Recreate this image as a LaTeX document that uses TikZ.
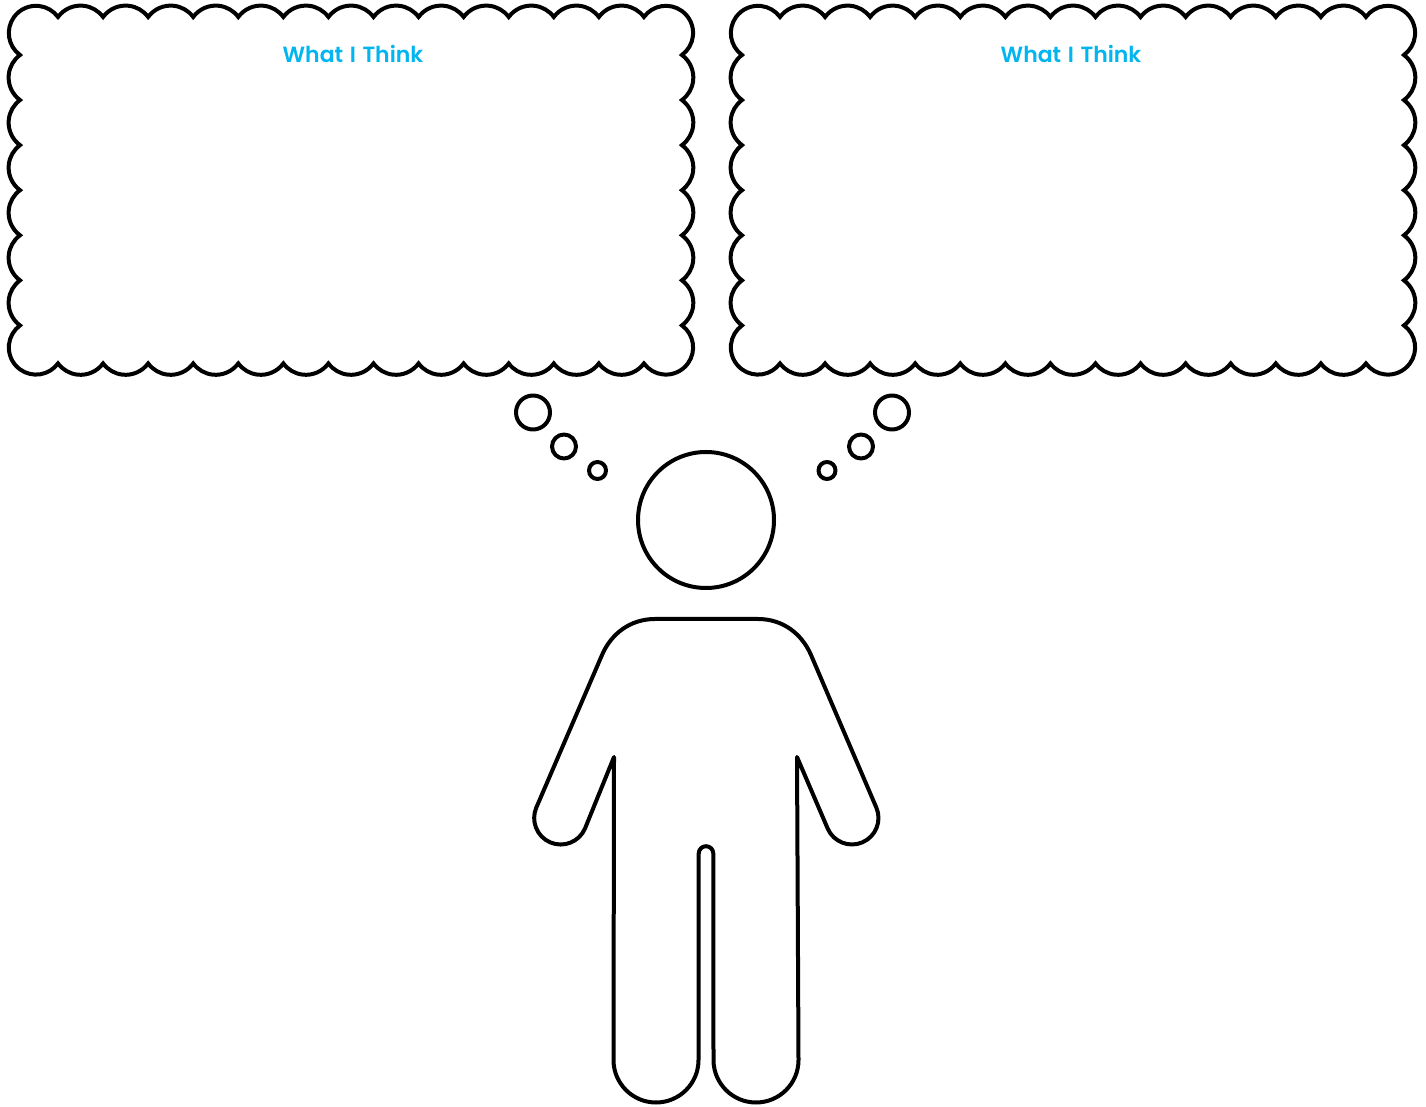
\documentclass[tikz,border=0pt]{standalone}
\usepackage{fontspec}
\setmainfont{Poppins}[BoldFont={Poppins SemiBold}]
\definecolor{titleblue}{HTML}{00B5F0}
\tikzset{
  outline/.style={
    line width=4pt,
    color=black,
    fill=white,
    miter limit=10
  },
  body line/.style={
    outline,
    line join=round
  },
  title text/.style={
    font=\fontsize{22}{26}\selectfont\bfseries,
    execute at begin node={\spaceskip=0.3em\relax},
    color=titleblue,
    inner sep=0pt
  },
  thought cloud/.pic={
    % each side: a corner, then its scallops
    \draw[outline] (58,1089)
      \foreach \turn/\count in {0/13, -90/6, -180/13, -270/6} {
        \foreach \i in {1,...,\count} {
          arc[start angle=143.6+\turn, end angle=36.4+\turn, radius=28]
        }
        arc[start angle=143.9+\turn, end angle=-53.9+\turn, radius=27.2]
      } -- cycle;
  }
}
\begin{document}
\begin{tikzpicture}[x=1pt, y=1pt]

  \useasboundingbox (0,0) rectangle (1426,1106);

  %% ---- clouds ----
  \pic at (0,0) {thought cloud};
  \pic at (722,0) {thought cloud};

  \node[title text] (titleL) at (353,1052) {What I Think};
  \node[title text] (titleR) at (1071,1052) {What I Think};

  %% ---- bubbles, left and right ----
  \draw[body line] (533,693.5) circle[radius=17];
  \draw[body line] (564,659.5) circle[radius=12];
  \draw[body line] (597.5,635.5) circle[radius=8.5];
  \draw[body line] (892,693.5) circle[radius=17];
  \draw[body line] (861,659.5) circle[radius=12];
  \draw[body line] (827,635.5) circle[radius=8.5];

  %% ---- head ----
  \draw[body line] (706,586) circle[radius=68];

  %% ---- body ----
  \coordinate (neckL) at (655,487);
  \coordinate (neckR) at (758,487);
  \coordinate (armL)  at (602,451);
  \coordinate (armR)  at (811,451);
  \coordinate (pitL)  at (614,349);
  \coordinate (pitR)  at (797,349);

  \draw[body line] (neckL) -- (neckR)
    .. controls (783,487) and (802,472) .. (armR)
    -- (876.3,298.5)
    arc[start angle=23.3, end angle=-156.7, radius=26.5]
    -- (pitR) -- (798.5,46)
    arc[start angle=0, end angle=-180, radius=42.5]
    -- (713.3,252.5)
    arc[start angle=0, end angle=180, radius=7.3]
    -- (698.5,46)
    arc[start angle=0, end angle=-180, radius=42.5]
    -- (pitL) -- (585,277.5)
    arc[start angle=-23.3, end angle=-203.3, radius=26.5]
    -- (armL)
    .. controls (611,472) and (630,487) .. (neckL) -- cycle;

\end{tikzpicture}
\end{document}
